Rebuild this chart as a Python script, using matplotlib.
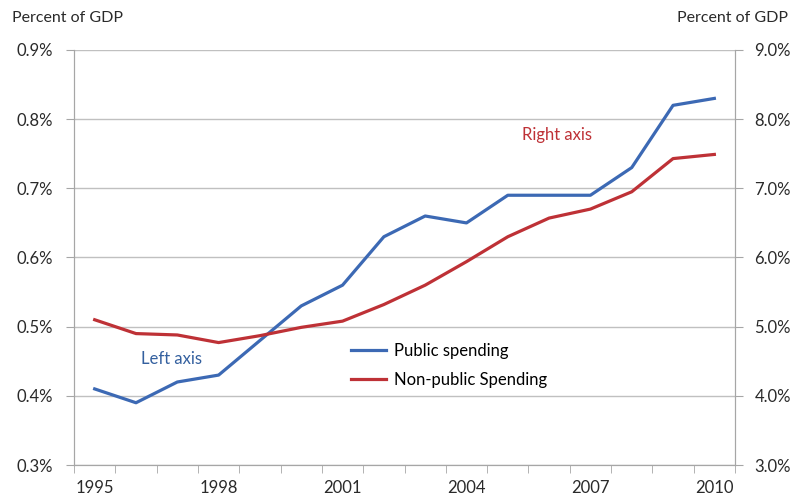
import numpy as np
import matplotlib.pyplot as plt

years = list(range(1995, 2011))
public = [0.41, 0.39, 0.42, 0.43, 0.48, 0.53, 0.56, 0.63, 0.66, 0.65,
          0.69, 0.69, 0.69, 0.73, 0.82, 0.83]
nonpublic = [5.10, 4.90, 4.88, 4.77, 4.87, 4.99, 5.08, 5.32, 5.60, 5.94,
             6.30, 6.57, 6.70, 6.95, 7.43, 7.49]
year_labels = ['1995', '1998', '2001', '2004', '2007', '2010']

plt.rcParams['font.family'] = ['Lato', 'DejaVu Sans']
blue = '#3c69b4'
red = '#be3136'
grey = '#a6a6a6'
txt = '#2a2a2a'

fig = plt.figure(figsize=(7.9, 4.96), dpi=100)
ax = fig.add_axes([0.0937, 0.0625, 0.8367, 0.8367])
ax2 = ax.twinx()

x = np.arange(len(years))
ax.plot(x, public, color=blue, lw=2.3, label='Public spending', zorder=3)
ax2.plot(x, nonpublic, color=red, lw=2.3, label='Non-public Spending', zorder=3)

ax.set_xlim(-0.5, len(years) - 0.5)
ax.set_ylim(0.3, 0.9)
ax2.set_ylim(3.0, 9.0)
ax.set_yticks(np.arange(0.3, 0.91, 0.1))
ax.set_yticklabels(['%.1f%%' % v for v in np.arange(0.3, 0.91, 0.1)])
ax2.set_yticks(np.arange(3.0, 9.1, 1.0))
ax2.set_yticklabels(['%.1f%%' % v for v in np.arange(3.0, 9.1, 1.0)])

ax.set_xticks(np.arange(-0.5, len(years)), minor=True)
ax.set_xticks(x[::3])
ax.set_xticklabels(year_labels)
ax.tick_params(axis='x', which='major', length=0, pad=11)
ax.tick_params(axis='x', which='minor', length=6, color=grey)
ax.tick_params(axis='y', length=6, color=grey, pad=9)
ax2.tick_params(axis='y', length=6, color=grey, pad=8)
for a in (ax, ax2):
    a.tick_params(labelsize=12, labelcolor=txt)

ax.yaxis.grid(True, color='#c0c0c0', lw=1)
ax.set_axisbelow(True)
for a in (ax, ax2):
    a.spines['top'].set_visible(False)
    for s in ('left', 'right', 'bottom'):
        a.spines[s].set_color(grey)

fig.text(0.015, 0.955, 'Percent of GDP', fontsize=11.5, color=txt)
fig.text(0.997, 0.955, 'Percent of GDP', fontsize=11.5, color=txt, ha='right')
ax.text(1.85, 0.453, 'Left axis', color='#34609f', fontsize=12, va='center', ha='center')
ax2.text(11.2, 7.77, 'Right axis', color=red, fontsize=12, va='center', ha='center')

h1, l1 = ax.get_legend_handles_labels()
h2, l2 = ax2.get_legend_handles_labels()
ax2.legend(h1 + h2, l1 + l2, loc='upper left', bbox_to_anchor=(0.396, 0.33),
           frameon=False, fontsize=12, handlelength=2.1, handletextpad=0.5,
           labelspacing=0.75)

plt.savefig('out.png')
